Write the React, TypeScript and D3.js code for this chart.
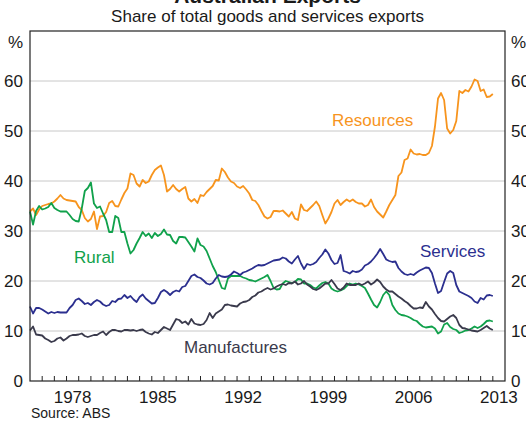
import React from "react";
import * as d3 from "d3";

// Quarterly observations, 1975 Q1 .. 2013 Q1 (share of total exports, %)
const startYear = 1975;
const quarterStep = 0.25;

const resources = [
  33.9, 34.5, 33.2, 34.3,
  35.0, 35.2, 35.4, 35.5,
  35.9, 36.5, 37.2, 36.5,
  36.2, 36.1, 36.0, 35.9,
  34.8, 34.2, 32.6, 31.9,
  32.4, 33.9, 30.4, 32.9,
  33.0, 33.8, 35.6, 36.0,
  35.0, 34.9, 36.3, 37.6,
  38.5, 41.5, 41.2, 39.5,
  38.9, 40.2, 39.6, 39.9,
  41.2, 42.2, 42.7, 43.1,
  41.2, 37.9, 38.4, 39.2,
  38.4, 37.9, 38.4, 38.8,
  36.5, 35.9, 36.4, 35.6,
  37.2, 37.0, 37.8, 38.4,
  39.0, 40.2, 40.1, 42.5,
  41.8, 40.7, 39.9, 39.6,
  38.9, 38.6, 39.0, 38.3,
  37.5, 36.2, 36.0, 35.2,
  34.0, 32.9, 32.5, 32.8,
  34.0, 34.0, 33.9, 34.1,
  33.5, 32.9, 33.8, 32.5,
  32.2, 35.3, 34.2, 34.0,
  34.6, 35.2, 35.9, 35.0,
  33.2, 31.5, 32.5, 33.8,
  35.5, 36.2, 35.2, 35.8,
  36.3, 35.9, 36.3, 35.8,
  35.5, 35.5, 34.9, 35.2,
  36.3, 34.8, 33.9, 33.3,
  32.7, 33.9, 35.2, 36.2,
  37.2, 41.0, 41.7, 44.2,
  44.5, 46.3, 45.5, 45.3,
  45.4, 45.2, 45.2, 45.6,
  47.0, 50.9, 56.5, 57.6,
  56.2, 50.5, 49.5, 50.2,
  52.0, 58.0, 57.6, 58.2,
  57.9, 58.9, 60.3, 60.0,
  58.0, 58.3, 56.8, 56.9,
  57.4,
];

const rural = [
  33.9, 31.3, 34.0, 35.0,
  34.3, 34.5, 34.8, 35.6,
  34.6, 34.2, 33.9, 33.9,
  33.9, 33.2, 32.4, 32.0,
  31.9, 34.5, 38.0, 38.6,
  39.7, 35.5, 34.6, 34.9,
  33.5, 32.2, 29.8, 29.8,
  33.0, 32.6, 29.8, 29.8,
  27.5, 25.5, 26.2, 27.5,
  28.6, 29.8, 29.0, 29.5,
  28.6, 29.6, 29.0, 29.4,
  30.3, 29.3, 29.2, 28.0,
  27.5, 28.8, 28.8, 28.7,
  27.8, 26.9, 25.9, 28.5,
  27.2, 26.9, 26.0, 24.5,
  23.0, 21.8, 20.2, 18.6,
  18.4, 20.5, 21.0, 21.0,
  21.0, 21.0, 20.7, 20.5,
  20.2, 20.1, 19.9, 20.2,
  20.5, 20.8, 21.2, 20.0,
  18.6, 18.3, 18.4, 19.5,
  20.0, 19.8, 19.6, 19.8,
  20.4, 20.3, 19.5, 19.5,
  19.2, 18.7, 18.5, 19.1,
  19.6, 19.8, 19.5, 18.5,
  18.1, 17.9, 18.1, 18.4,
  19.0, 19.5, 19.3, 19.5,
  19.3, 19.0, 18.6, 17.5,
  16.3, 15.2, 14.7, 15.8,
  17.2, 17.9, 17.2, 15.2,
  14.2, 13.5, 13.2, 13.1,
  12.9, 12.6, 12.2, 12.0,
  11.4, 10.9, 10.7, 10.8,
  10.9, 10.5, 9.5, 9.9,
  11.3, 11.6, 10.8, 10.4,
  10.2, 9.6, 9.8, 10.1,
  10.2, 10.5, 10.9, 10.6,
  10.9, 11.4, 12.0, 12.1,
  11.9,
];

const services = [
  14.9, 13.5, 14.6, 14.6,
  14.3, 13.9, 13.5, 13.8,
  13.6, 13.8, 13.7, 13.7,
  13.7, 14.6, 15.2, 16.2,
  16.5, 16.0, 15.4, 15.6,
  15.2, 15.8, 16.2, 15.9,
  15.3, 15.0, 15.2, 16.0,
  15.8, 16.4, 16.5, 17.2,
  16.6, 17.0, 16.3, 15.8,
  16.8, 17.3, 16.5, 16.0,
  15.5, 15.6, 16.6, 17.8,
  18.2, 17.8, 17.2, 17.8,
  18.1, 17.9, 18.8, 19.0,
  20.0, 21.0, 21.3, 20.8,
  20.6, 20.1, 19.5, 19.3,
  19.6, 20.5, 21.2, 20.9,
  20.8, 20.9, 21.3, 21.9,
  21.6, 21.2, 21.7, 21.9,
  22.2, 22.5, 22.9, 23.2,
  23.1, 23.2, 23.5, 23.8,
  24.1, 24.2, 24.3, 24.7,
  24.5, 23.9, 23.5, 24.3,
  25.0, 23.5, 22.4, 23.4,
  23.2, 23.4, 23.8, 24.6,
  25.3, 26.3, 25.5, 24.2,
  23.4, 23.6, 25.2, 22.0,
  21.8, 21.5, 22.0, 21.8,
  21.9, 22.3, 23.1, 23.4,
  23.9, 24.6, 25.4, 26.4,
  25.4, 24.3, 24.0, 23.8,
  23.9, 22.6, 21.9, 21.4,
  21.2, 21.4, 21.2, 21.7,
  22.1, 22.4, 22.7, 22.6,
  21.6, 19.5, 17.6, 18.0,
  19.8, 21.5, 22.0, 21.6,
  19.2, 17.9, 17.6, 17.3,
  17.0, 16.6, 15.9, 15.6,
  16.6, 16.3, 17.1, 17.2,
  17.0,
];

const manufactures = [
  10.1, 10.9, 9.3, 9.2,
  9.1, 8.5, 8.2, 7.8,
  8.0, 8.5, 8.7, 8.1,
  8.5, 9.0, 9.2, 9.2,
  9.3, 9.5, 9.0, 8.8,
  9.0, 9.2, 9.2, 9.6,
  9.9, 9.2, 9.8, 10.2,
  10.2, 10.0, 9.9, 10.2,
  10.2, 10.1, 10.2, 10.0,
  10.2, 10.3, 9.8, 9.5,
  9.3, 9.8, 9.6, 10.2,
  10.8, 10.5, 10.2, 11.3,
  12.4, 12.2, 11.6, 11.9,
  11.3, 12.4, 11.5, 11.3,
  11.2, 11.4, 12.2, 13.6,
  12.6, 13.5, 13.9, 14.3,
  15.2, 15.3, 15.1, 15.0,
  14.9, 15.5, 15.8, 15.9,
  16.2, 16.8, 17.1, 17.7,
  17.9, 18.3, 18.6, 18.3,
  18.5, 18.9, 19.2, 19.4,
  19.2, 19.6, 19.5, 19.9,
  19.3, 19.5, 20.0, 19.3,
  18.9, 18.4, 18.2, 18.5,
  19.0, 19.5, 19.5, 20.2,
  19.4, 18.5, 18.2, 18.7,
  19.5, 19.2, 19.2, 19.2,
  19.5, 19.2, 19.5, 19.9,
  19.3, 19.7, 20.3, 19.8,
  18.9, 18.3, 17.9, 17.9,
  17.4, 16.9, 16.5, 16.0,
  15.6, 15.0, 14.5, 14.5,
  14.7, 14.6, 15.8, 14.9,
  14.3, 13.4, 12.6, 12.0,
  11.9, 12.4, 12.9, 13.2,
  12.6, 11.2, 10.6, 10.5,
  10.3, 10.1, 10.0, 9.9,
  10.2, 10.6, 11.0, 10.5,
  10.2,
];

const yTicks = [0, 10, 20, 30, 40, 50, 60];
const yearLabels = [1978, 1985, 1992, 1999, 2006, 2013];
const xDomain = [1975, 2014];
const yDomain = [0, 70];

const title = "Australian Exports";
const subtitle = "Share of total goods and services exports";
const source = "Source: ABS";

const seriesList = [
  { name: "Resources", values: resources, color: "#f7941d", label: { x: 332, y: 126 } },
  { name: "Rural", values: rural, color: "#10a14b", label: { x: 74, y: 263 } },
  { name: "Services", values: services, color: "#2b2f8f", label: { x: 420, y: 257 } },
  { name: "Manufactures", values: manufactures, color: "#3a3a4c", label: { x: 184, y: 353 } },
];

const W = 526;
const H = 421;
const left = 30;
const right = 505;
const top = 31;
const bottom = 381;
const FONT = "'Liberation Sans', Arial, Helvetica, sans-serif";

export default function App() {
  const x = d3.scaleLinear().domain(xDomain).range([left, right]);
  const y = d3.scaleLinear().domain(yDomain).range([bottom, top]);
  const dates = d3.range(resources.length).map((i) => startYear + i * quarterStep);
  const line = d3
    .line<number>()
    .x((_, i) => x(dates[i]))
    .y((d) => y(d));
  const yearTicks = d3.range(xDomain[0] + 1, xDomain[1]);

  return (
    <svg
      width={W}
      height={H}
      style={{ position: "absolute", left: 0, top: 0, background: "#fff" }}
      fontFamily={FONT}
    >
      <rect x={0} y={0} width={W} height={H} fill="#fff" />
      {/* title (cut off at top in the reference) */}
      <text x={(left + right) / 2} y={2.5} textAnchor="middle" fontSize={21} fontWeight="bold" fill="#1a1a1a">
        {title}
      </text>
      <text x={(left + right) / 2} y={22} textAnchor="middle" fontSize={17} fill="#1a1a1a">
        {subtitle}
      </text>

      {/* gridlines */}
      {yTicks
        .filter((t) => t > 0)
        .map((t) => (
          <line key={"g" + t} x1={left} x2={right} y1={y(t)} y2={y(t)} stroke="#c8c8c8" strokeWidth={1} />
        ))}

      {/* series */}
      {seriesList.map((s) => (
        <path key={s.name} d={line(s.values) || ""} fill="none" stroke={s.color} strokeWidth={1.8} strokeLinejoin="round" />
      ))}

      {/* frame */}
      <rect x={left} y={top} width={right - left} height={bottom - top} fill="none" stroke="#222" strokeWidth={1.2} />

      {/* x ticks */}
      {yearTicks.map((yr) => (
        <line key={"t" + yr} x1={x(yr)} x2={x(yr)} y1={bottom} y2={bottom - 5} stroke="#222" strokeWidth={1} />
      ))}
      {yearLabels.map((yr) => (
        <text key={"yl" + yr} x={x(yr + 0.5)} y={403} textAnchor="middle" fontSize={17} fill="#1a1a1a">
          {yr}
        </text>
      ))}

      {/* y labels left & right */}
      {yTicks.map((t) => (
        <g key={"yl" + t}>
          <text x={23} y={y(t)} dy="0.35em" textAnchor="end" fontSize={17} fill="#1a1a1a">
            {t}
          </text>
          <text x={511} y={y(t)} dy="0.35em" textAnchor="start" fontSize={17} fill="#1a1a1a">
            {t}
          </text>
        </g>
      ))}
      <text x={23} y={48} textAnchor="end" fontSize={17} fill="#1a1a1a">%</text>
      <text x={511} y={48} textAnchor="start" fontSize={17} fill="#1a1a1a">%</text>

      {/* series labels */}
      {seriesList.map((s) => (
        <text key={"lab" + s.name} x={s.label.x} y={s.label.y} fontSize={17} fill={s.color}>
          {s.name}
        </text>
      ))}

      <text x={31} y={418} fontSize={14} fill="#1a1a1a">{source}</text>
    </svg>
  );
}
